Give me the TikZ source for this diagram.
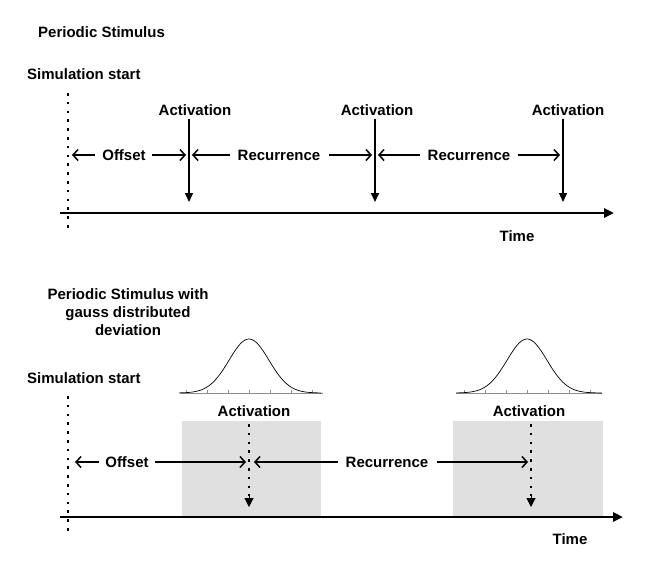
\documentclass[tikz,border=0pt]{standalone}
\usepackage{fontspec}
\setmainfont{Liberation Sans}
\usetikzlibrary{arrows.meta}
\begin{document}
\begin{tikzpicture}[x=1pt,y=-1pt,
 lbl/.style={font=\bfseries\fontsize{15}{18}\selectfont, inner sep=0pt},
 harrow/.style={line width=1.5pt,-{Straight Barb[length=5pt,width=11pt,line width=1.5pt]}},
 varrow/.style={line width=1.5pt,-{Triangle[length=9pt,width=8pt]}},
 axisline/.style={line width=2.5pt,-{Triangle[length=10pt,width=9pt]}},
 dotline/.style={line width=2.5pt,dash pattern=on 2.5pt off 6.3pt},
 dottip/.style={line width=1pt,-{Triangle[length=9pt,width=9pt]}},
 shade/.style={fill=black!12,draw=none},
 gauss/.style={line width=0.7pt},
 gbase/.style={line width=0.5pt,draw=black!45},
]
\useasboundingbox (0,0) rectangle (655,576);

% ---------------- top ----------------
\node[lbl,anchor=west] (t1) at (38,32) {Periodic Stimulus};
\node[lbl,anchor=west] (ss1) at (27,74) {Simulation start};
\coordinate (d1top) at (68,93);
\coordinate (d1bot) at (68,228);
\draw[dotline] (d1top) -- (d1bot);
\coordinate (ax1s) at (60,213);
\coordinate (ax1e) at (614,213);
\draw[axisline] (ax1s) -- (ax1e);
\node[lbl] (time1) at (517,236) {Time};

\node[lbl] (act1) at (195,110) {Activation};
\node[lbl] (act2) at (377,110) {Activation};
\node[lbl] (act3) at (568,110) {Activation};
\coordinate (a1t) at (189,119); \coordinate (a1b) at (189,202);
\coordinate (a2t) at (375,119); \coordinate (a2b) at (375,202);
\coordinate (a3t) at (563,119); \coordinate (a3b) at (563,202);
\draw[varrow] (a1t) -- (a1b);
\draw[varrow] (a2t) -- (a2b);
\draw[varrow] (a3t) -- (a3b);

\node[lbl] (off1) at (124,155) {Offset};
\node[lbl] (rec1) at (279,155) {Recurrence};
\node[lbl] (rec2) at (469,155) {Recurrence};
\coordinate (o1l) at (72,155);  \coordinate (o1r) at (186,155);
\coordinate (r1l) at (192,155); \coordinate (r1r) at (372,155);
\coordinate (r2l) at (378,155); \coordinate (r2r) at (560,155);
\draw[harrow] ([xshift=-7pt]off1.west) -- (o1l);
\draw[harrow] ([xshift=6pt]off1.east) -- (o1r);
\draw[harrow] ([xshift=-8pt]rec1.west) -- (r1l);
\draw[harrow] ([xshift=9pt]rec1.east) -- (r1r);
\draw[harrow] ([xshift=-8pt]rec2.west) -- (r2l);
\draw[harrow] ([xshift=8pt]rec2.east) -- (r2r);

% ---------------- bottom ----------------
\node[lbl,align=center] (t2) at (128,312) {Periodic Stimulus with\\gauss distributed\\deviation};
\node[lbl,anchor=west] (ss2) at (27,378) {Simulation start};

\fill[shade] (182,421) rectangle (321,517);
\fill[shade] (453,421) rectangle (603,517);

% gauss curves
\draw[gbase] (180,393) -- (323,393);
\foreach \k in {-3,...,3} \draw[gbase] ({249+21*\k},393) -- ({249+21*\k},390);
\draw[gauss] plot[domain=-70:72,samples=80,smooth] ({249+\x},{393-54*exp(-0.5*(\x/20)*(\x/20))});
\draw[gbase] (456,393) -- (602,393);
\foreach \k in {-3,...,3} \draw[gbase] ({527+21*\k},393) -- ({527+21*\k},390);
\draw[gauss] plot[domain=-71:75,samples=80,smooth] ({527+\x},{393-54*exp(-0.5*(\x/20)*(\x/20))});

\coordinate (d2top) at (68,396);
\coordinate (d2bot) at (68,532);
\draw[dotline] (d2top) -- (d2bot);
\coordinate (ax2s) at (60,517);
\coordinate (ax2e) at (623,517);
\draw[axisline] (ax2s) -- (ax2e);
\node[lbl] (time2) at (570,539) {Time};

\node[lbl] (act4) at (254,411) {Activation};
\node[lbl] (act5) at (529,411) {Activation};
\coordinate (a4t) at (249,424); \coordinate (a4m) at (249,496); \coordinate (a4b) at (249,507);
\coordinate (a5t) at (531,424); \coordinate (a5m) at (531,496); \coordinate (a5b) at (531,507);
\draw[dotline] (a4t) -- (a4m);
\draw[dottip] (a4m) -- (a4b);
\draw[dotline] (a5t) -- (a5m);
\draw[dottip] (a5m) -- (a5b);

\node[lbl] (off2) at (127,462) {Offset};
\node[lbl] (rec3) at (387,462) {Recurrence};
\coordinate (o2l) at (75,462);  \coordinate (o2r) at (246,462);
\coordinate (r3l) at (254,462); \coordinate (r3r) at (528,462);
\draw[harrow] ([xshift=-6pt]off2.west) -- (o2l);
\draw[harrow] ([xshift=6pt]off2.east) -- (o2r);
\draw[harrow] ([xshift=-8pt]rec3.west) -- (r3l);
\draw[harrow] ([xshift=9pt]rec3.east) -- (r3r);
\end{tikzpicture}
\end{document}
